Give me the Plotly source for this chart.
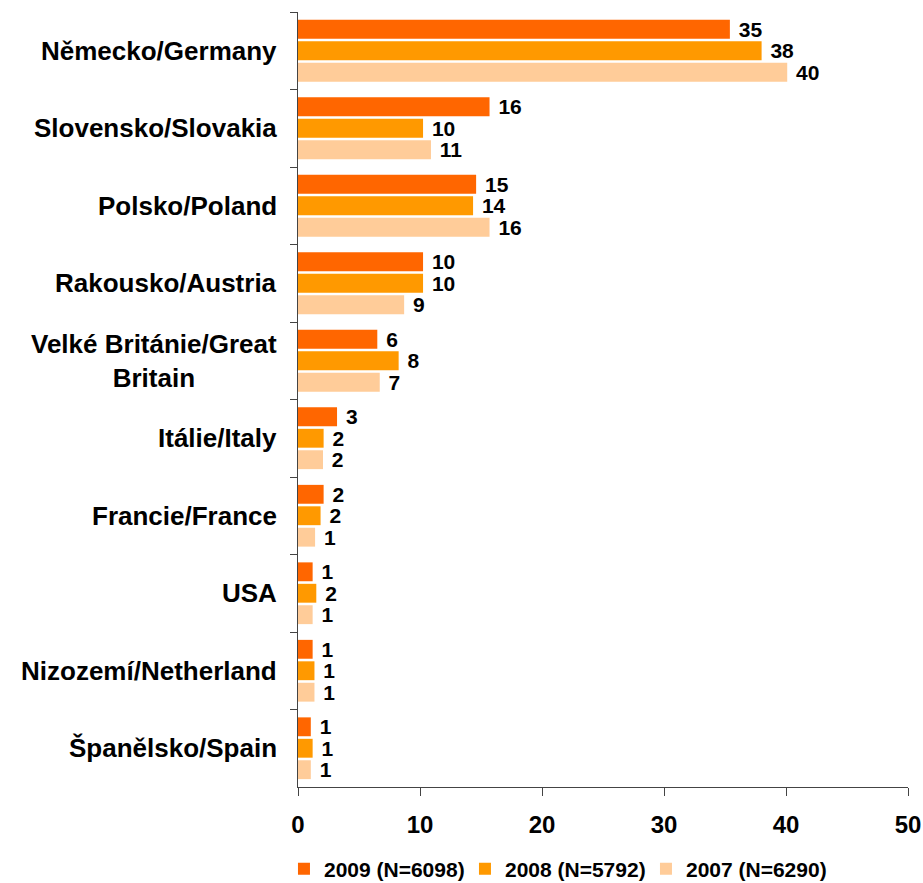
import plotly.graph_objects as go

#%% data
countries = [
    'Německo/Germany',
    'Slovensko/Slovakia',
    'Polsko/Poland',
    'Rakousko/Austria',
    'Velké Británie/Great<br>Britain',
    'Itálie/Italy',
    'Francie/France',
    'USA',
    'Nizozemí/Netherland',
    'Španělsko/Spain',
]

share_2009 = [35.4, 15.7, 14.6, 10.25, 6.5, 3.2, 2.1, 1.2, 1.2, 1.05]
share_2008 = [38.0, 10.25, 14.35, 10.25, 8.25, 2.1, 1.85, 1.5, 1.35, 1.2]
share_2007 = [40.1, 10.9, 15.7, 8.7, 6.7, 2.05, 1.4, 1.2, 1.35, 1.05]

labels_2009 = [35, 16, 15, 10, 6, 3, 2, 1, 1, 1]
labels_2008 = [38, 10, 14, 10, 8, 2, 2, 2, 1, 1]
labels_2007 = [40, 11, 16, 9, 7, 2, 1, 1, 1, 1]

series = [
    ('2009 (N=6098)', share_2009, labels_2009, '#FF6600'),
    ('2008 (N=5792)', share_2008, labels_2008, '#FF9900'),
    ('2007 (N=6290)', share_2007, labels_2007, '#FFCC99'),
]

font_family = 'Liberation Sans, Arial, sans-serif'

#%% figure
fig = go.Figure()
for name, values, labels, color in series:
    fig.add_trace(go.Bar(
        name=name,
        y=countries,
        x=values,
        orientation='h',
        marker=dict(color=color, line=dict(width=0)),
        text=labels,
        texttemplate='\u00a0%{text}',
        textposition='outside',
        constraintext='none',
        cliponaxis=False,
        textfont=dict(family=font_family, size=21, color='black', weight='bold'),
        hoverinfo='skip',
    ))

# category labels, centred lines like the original
for c in countries:
    fig.add_annotation(
        x=0, xref='paper', xanchor='right', xshift=-19,
        y=c, yref='y', yanchor='middle',
        text=c, showarrow=False, align='center',
        font=dict(family=font_family, size=26, color='black', weight='bold'),
    )

fig.update_layout(
    width=923,
    height=883,
    margin=dict(l=298, r=15, t=12, b=96, autoexpand=False),
    paper_bgcolor='white',
    plot_bgcolor='white',
    barmode='group',
    bargap=0.17,
    bargroupgap=0.12,
    font=dict(family=font_family, color='black'),
    legend=dict(
        orientation='h',
        x=-0.023, xanchor='left',
        y=-0.106, yanchor='middle',
        entrywidth=136,
        font=dict(family=font_family, size=21, color='black', weight='bold'),
        traceorder='normal',
    ),
    showlegend=True,
)
fig.update_yaxes(
    autorange='reversed',
    automargin=False,
    showticklabels=False,
    tickson='boundaries',
    ticks='outside',
    ticklen=7,
    tickcolor='#444',
    showline=True,
    linecolor='#444',
    linewidth=1,
    showgrid=False,
)
fig.update_xaxes(
    range=[0, 50],
    dtick=10,
    automargin=False,
    ticks='outside',
    ticklen=8,
    tickcolor='#444',
    showline=True,
    linecolor='#444',
    linewidth=1,
    showgrid=False,
    zeroline=False,
    ticklabelstandoff=8,
    tickfont=dict(family=font_family, size=24, color='black', weight='bold'),
)

fig.write_html(
    'out.html',
    config={'displayModeBar': False},
    post_script="document.body.style.margin='0';",
)
